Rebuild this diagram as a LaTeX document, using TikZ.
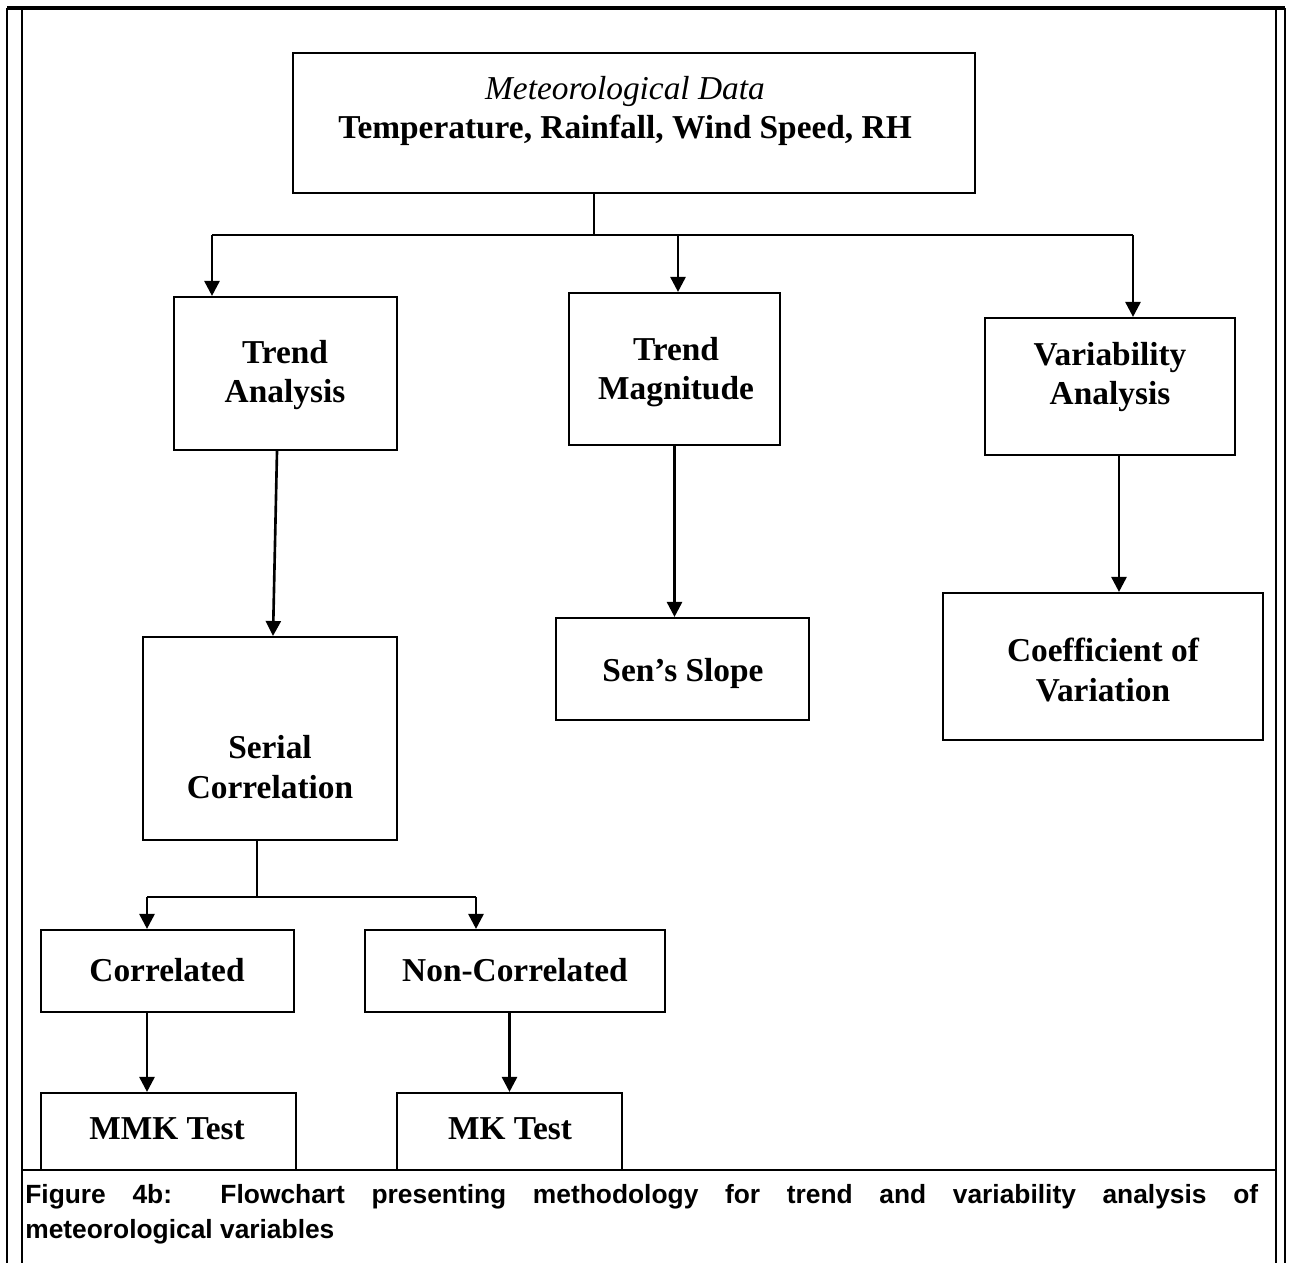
\documentclass[tikz,border=0pt]{standalone}
\usepackage{fontspec}
\setmainfont{Liberation Serif}
\newfontfamily\capfont{Liberation Sans}
\usetikzlibrary{arrows.meta, positioning, calc, fit}

\tikzset{
  box/.style={draw, line width=1.2pt, inner sep=0pt},
  boxtext/.style={align=center, inner sep=0pt, font=\bfseries\fontsize{19}{22.5}\selectfont},
  captext/.style={align=left, inner sep=0pt, font=\capfont\bfseries\fontsize{15}{18.2}\selectfont},
  link/.style={line width=1.2pt},
  arr/.style={line width=1.5pt, -{Triangle[length=0.3cm, width=0.3cm]}},
  frame/.style={line width=1.5pt}
}

\begin{document}
\begin{tikzpicture}[x=0.02cm, y=-0.02cm]
    \useasboundingbox (0,0) rectangle (1290,1263);

    % page frame
    \draw [line width=2pt] (7,8) -- (1285,8);
    \draw [frame] (7,8) -- (7,1263) (22,8) -- (22,1263);
    \draw [frame] (1276,8) -- (1276,1263) (1285,8) -- (1285,1263);

    % boxes
    \node [box, fit={(293,53) (975,193)}] (top) {};
    \node [box, fit={(174,297) (397,450)}] (ta) {};
    \node [box, fit={(569,293) (780,445)}] (tm) {};
    \node [box, fit={(985,318) (1235,455)}] (va) {};
    \node [box, fit={(143,637) (397,840)}] (sc) {};
    \node [box, fit={(556,618) (809,720)}] (sen) {};
    \node [box, fit={(943,593) (1263,740)}] (cv) {};
    \node [box, fit={(41,930) (294,1012)}] (cor) {};
    \node [box, fit={(365,930) (665,1012)}] (ncor) {};
    \node [box, fit={(41,1093) (296,1170)}] (mmk) {};
    \node [box, fit={(397,1093) (622,1170)}] (mk) {};

    % texts
    \node [boxtext] (top-t) at (625,111) {{\mdseries\itshape Meteorological Data}\\
      Temperature, Rainfall, Wind Speed, RH};
    \node [boxtext] (ta-t) at (285,375) {Trend\\ Analysis};
    \node [boxtext] (tm-t) at (676,372) {Trend\\ Magnitude};
    \node [boxtext] (va-t) at (1110,377) {Variability\\ Analysis};
    \node [boxtext] (sc-t) at (270,767) {Serial\\ Correlation};
    \node [boxtext] (sen-t) at (683,673) {Sen’s Slope};
    \node [boxtext] (cv-t) at (1103,670) {Coefficient of\\ Variation};
    \node [boxtext] (cor-t) at (167,970) {Correlated};
    \node [boxtext] (ncor-t) at (515,970) {Non-Correlated};
    \node [boxtext] (mmk-t) at (167,1129) {MMK Test};
    \node [boxtext] (mk-t) at (510,1129) {MK Test};

    % connectors
    \coordinate (stem) at (594,235);
    \coordinate (jl) at (212,235);
    \coordinate (jm) at (678,235);
    \coordinate (jr) at (1133,235);
    \draw [link] (top.south -| stem) -- (stem);
    \draw [link] (jl) -- (jr);
    \draw [arr] (jl) -- (jl |- ta.north);
    \draw [arr] (jm) -- (jm |- tm.north);
    \draw [arr] (jr) -- (jr |- va.north);

    \draw [arr] ([xshift=-0.17cm]ta.south) -- ([xshift=0.06cm]sc.north);
    \draw [arr] (tm.south) -- (tm.south |- sen.north);
    \draw [arr] ([xshift=0.18cm]va.south) -- ([xshift=0.18cm]va.south |- cv.north);

    \coordinate (sj) at (257,897);
    \coordinate (sl) at (147,897);
    \coordinate (sr) at (476,897);
    \draw [link] (sc.south -| sj) -- (sj);
    \draw [link] (sl) -- (sr);
    \draw [arr] (sl) -- (sl |- cor.north);
    \draw [arr] (sr) -- (sr |- ncor.north);
    \draw [arr] (cor.south -| sl) -- (sl |- mmk.north);
    \draw [arr] (ncor.south -| mk.north) -- (mk.north);

    % caption
    \draw [frame] (22,1170) -- (1276,1170);
    \node [captext, anchor=north west] (cap) at (25,1184)
      {\makebox[24.66cm][s]{Figure 4b: Flowchart presenting methodology for trend and variability analysis of}\\[2pt]
      meteorological variables};
  \end{tikzpicture}
\end{document}
